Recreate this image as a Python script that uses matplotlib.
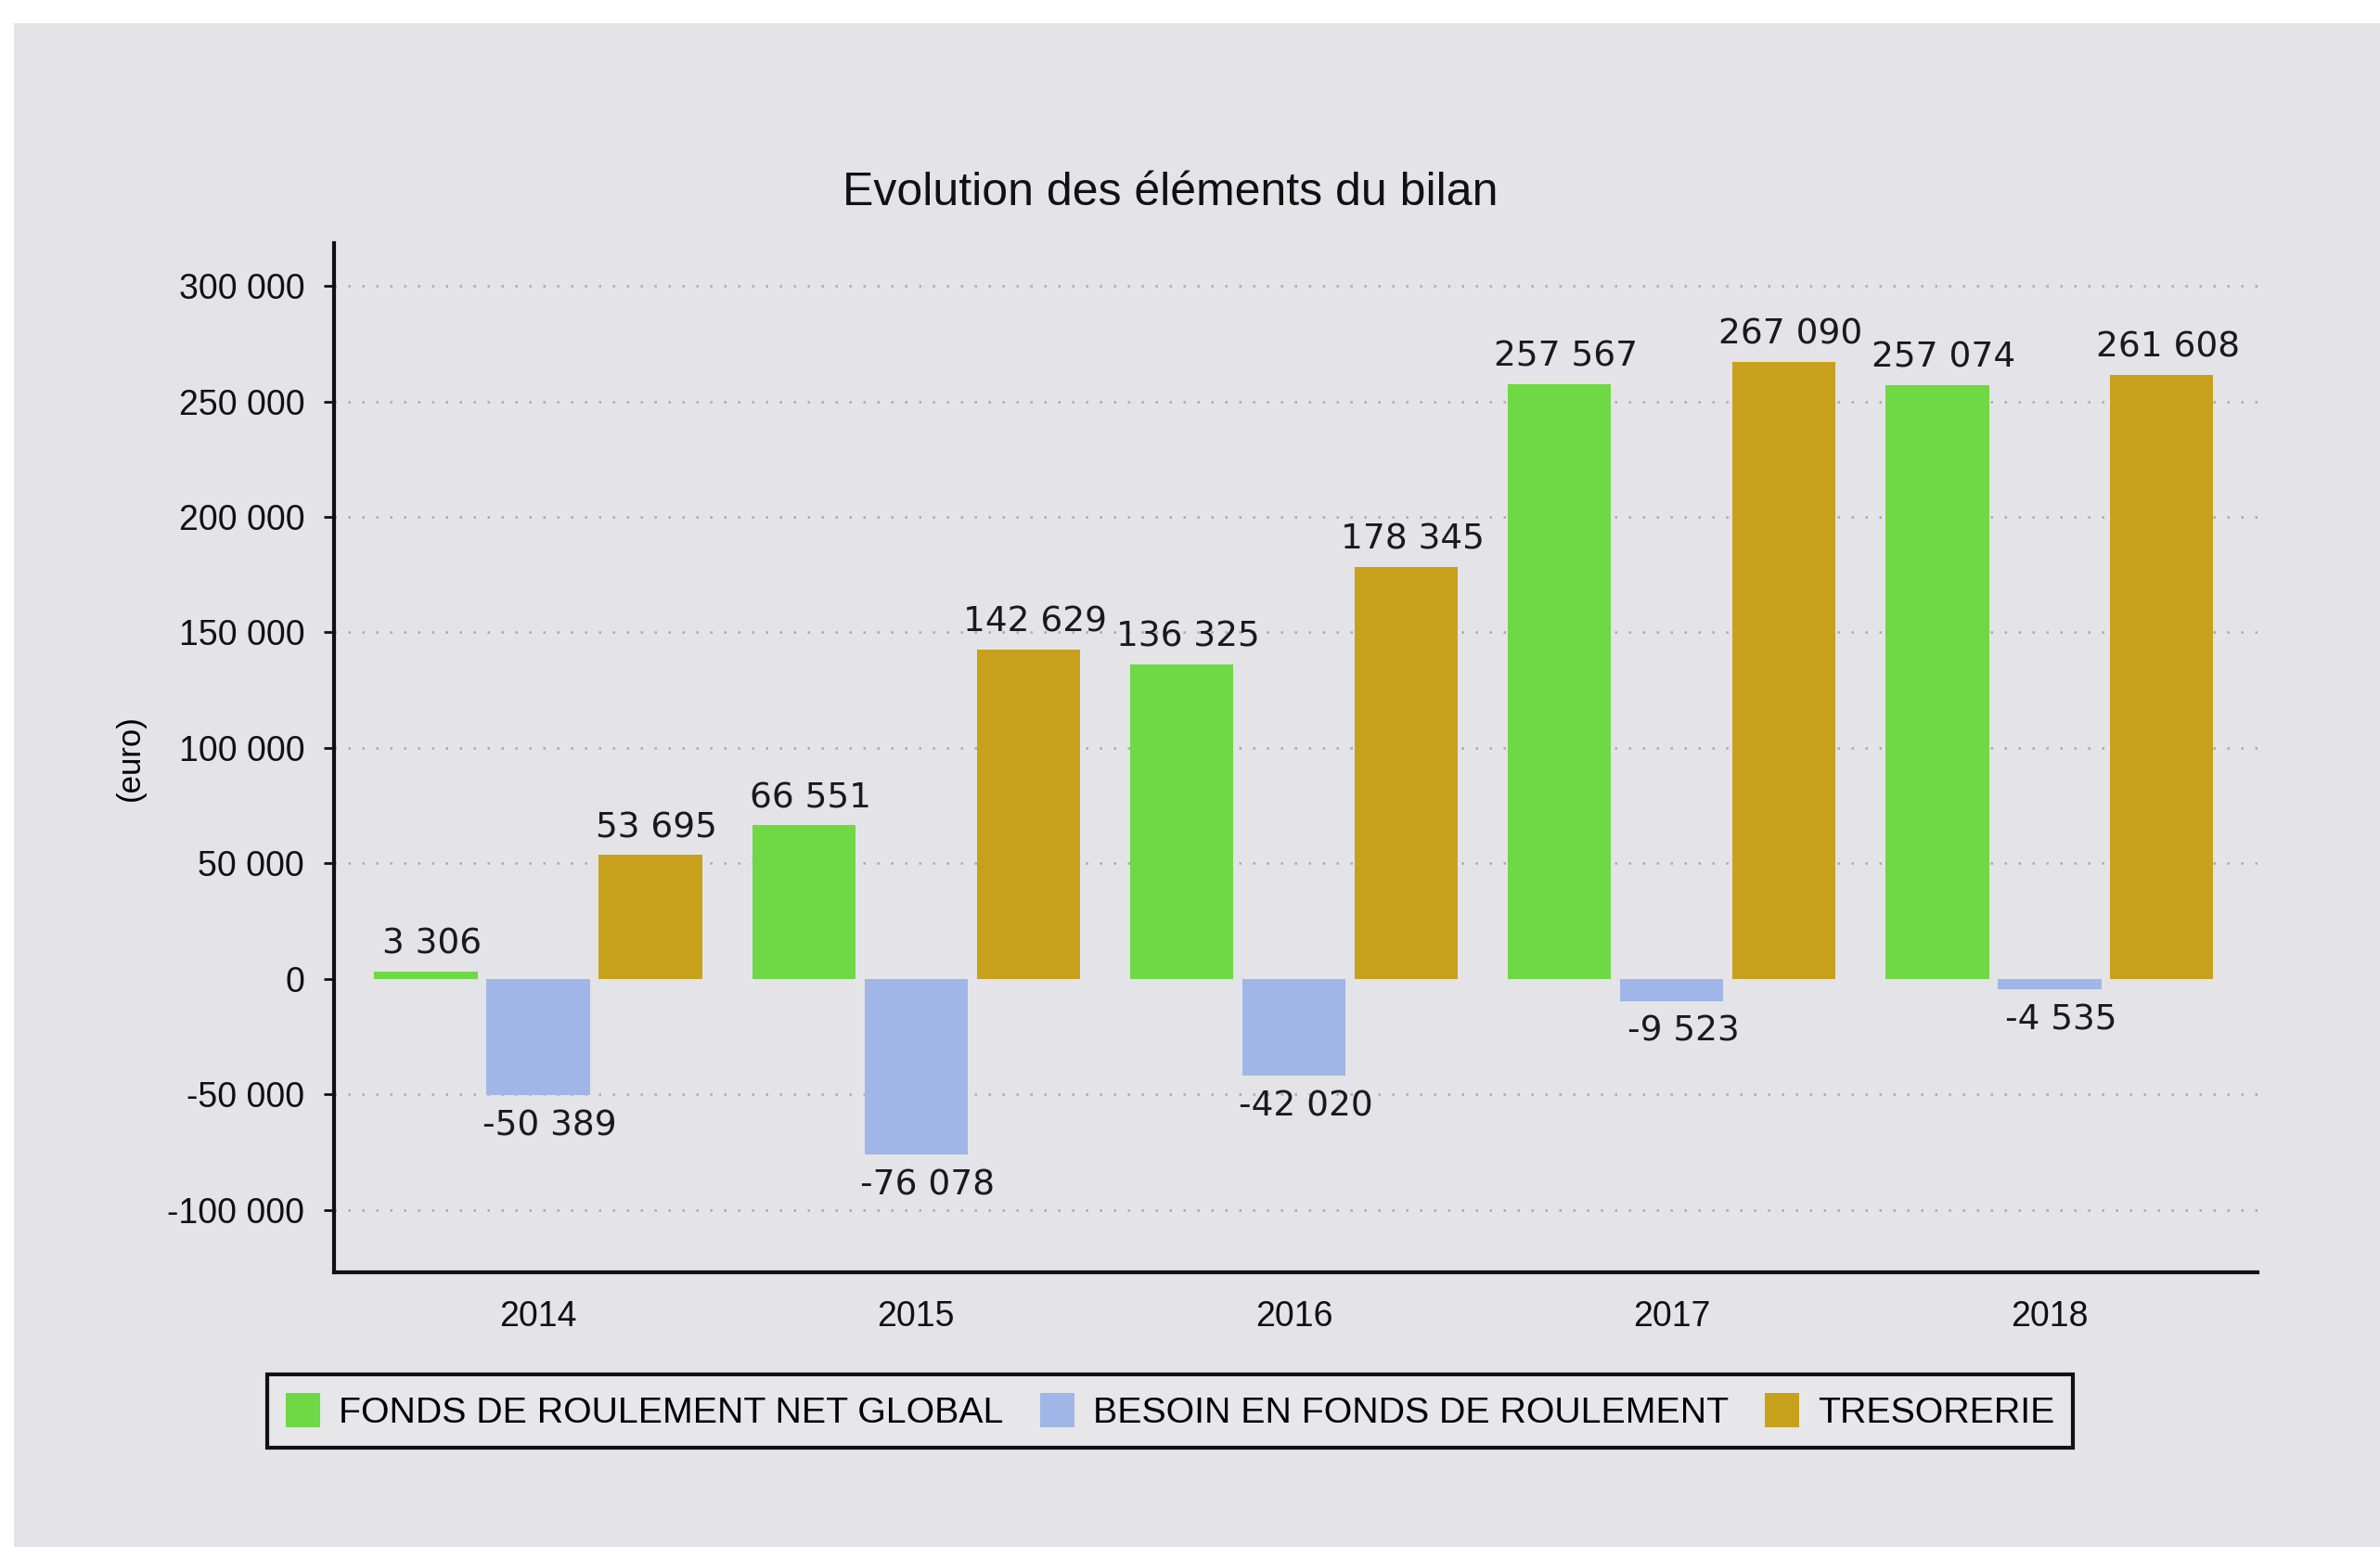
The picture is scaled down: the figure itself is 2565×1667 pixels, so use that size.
"""Evolution des éléments du bilan - grouped bar chart."""
import matplotlib.pyplot as plt
import numpy as np

years = ["2014", "2015", "2016", "2017", "2018"]
series_names = ["FONDS DE ROULEMENT NET GLOBAL",
                "BESOIN EN FONDS DE ROULEMENT",
                "TRESORERIE"]
fr_net_global = [3306, 66551, 136325, 257567, 257074]
besoin_fr = [-50389, -76078, -42020, -9523, -4535]
tresorerie = [53695, 142629, 178345, 267090, 261608]
y_ticks = [-100000, -50000, 0, 50000, 100000, 150000, 200000, 250000, 300000]

colors = ["#6fd845", "#9fb6e6", "#c8a11c"]
bg = "#e4e3e7"


def fmt(v):
    return f"{v:,}".replace(",", " ")


fig = plt.figure(figsize=(25.65, 16.67), dpi=100)
fig.patch.set_facecolor("white")
# scanned page background
page = plt.Rectangle((0.006, 0), 0.994, 0.985, transform=fig.transFigure,
                     facecolor=bg, edgecolor="none", zorder=-10)
fig.add_artist(page)

ax = fig.add_axes([0.1404, 0.1776, 0.8081, 0.6652])
ax.set_facecolor("none")

x = np.arange(len(years))
offset = 0.297
width = 0.273
all_series = [fr_net_global, besoin_fr, tresorerie]
for k, (vals, name, col) in enumerate(zip(all_series, series_names, colors)):
    pos = x + (k - 1) * offset
    ax.bar(pos, vals, width, color=col, label=name, zorder=3)
    for px, v in zip(pos, vals):
        if v >= 0:
            ax.annotate(fmt(v), (px, v), xytext=(5, 8), textcoords="offset points",
                        ha="center", va="bottom", fontsize=27,
                        family="DejaVu Sans", color="#1a1a1a")
        else:
            ax.annotate(fmt(v), (px, v), xytext=(9, -11), textcoords="offset points",
                        ha="center", va="top", fontsize=27,
                        family="DejaVu Sans", color="#1a1a1a")

ax.set_xlim(-0.54, 4.55)
ax.set_ylim(-127000, 318500)
ax.set_yticks(y_ticks)
ax.set_yticklabels([fmt(v) for v in y_ticks], family="Liberation Sans", fontsize=27)
ax.set_xticks(x)
ax.set_xticklabels(years, family="Liberation Sans", fontsize=27)
ax.tick_params(axis="y", direction="out", length=8, width=2, pad=15, colors="#111111")
ax.tick_params(axis="x", length=0, pad=22, colors="#111111")

for s in ["top", "right"]:
    ax.spines[s].set_visible(False)
for s in ["left", "bottom"]:
    ax.spines[s].set_linewidth(3)
    ax.spines[s].set_color("#111111")

ax.yaxis.grid(True, linestyle=(0, (1, 5)), linewidth=1.8, color="#a9a9a9", zorder=1)
ax.set_axisbelow(True)
# no dotted line on the zero level
for val, gl in zip(y_ticks, ax.yaxis.get_gridlines()):
    if val == 0:
        gl.set_visible(False)

ax.set_ylabel("(euro)", family="Liberation Sans", fontsize=25)
ax.yaxis.set_label_coords(-0.098, 0.5)

fig.text(0.4917, 0.875, "Evolution des éléments du bilan", ha="center", va="center",
         family="Liberation Sans", fontsize=36, color="#111111")

leg = fig.legend(loc="center", bbox_to_anchor=(0.4917, 0.0876), ncol=3,
                 prop={"family": "Liberation Sans", "size": 28.3},
                 handlelength=0.95, handleheight=1.05, handletextpad=0.5,
                 columnspacing=1.0, borderpad=0.5, fancybox=False,
                 framealpha=1, facecolor="#e7e6e9", edgecolor="#111111")
leg.get_frame().set_linewidth(3)

fig.savefig("out.png", dpi=100, facecolor=fig.get_facecolor())
